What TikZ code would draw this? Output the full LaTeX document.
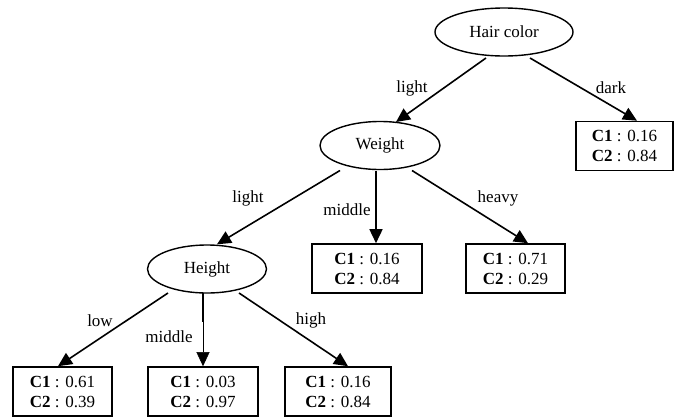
\documentclass[tikz,border=0pt]{standalone}
\usepackage{fontspec}
\setmainfont{Liberation Serif}
\usetikzlibrary{shapes.geometric,arrows.meta,calc}
\tikzset{
  attr/.style={draw, ellipse, line width=1.4pt, inner sep=0pt, minimum height=48pt},
  leaf/.style={draw, rectangle, line width=1.6pt, inner sep=0pt, minimum height=49pt, align=center},
  tip/.style={-{Triangle[length=14pt,width=13pt]}},
  edge/.style={line width=1.6pt, tip},
  lbl/.style={inner sep=1pt},
}
\begin{document}
\begin{tikzpicture}[x=1pt,y=-1pt,font=\fontsize{17}{20}\selectfont]
\useasboundingbox (0,0) rectangle (675,416);

% decision nodes
\node[attr, minimum width=138pt] (hair) at (504,32) {Hair color};
\node[attr, minimum width=120pt] (weight) at (380,145.5) {Weight};
\node[attr, minimum width=119pt] (height) at (207,269) {Height};

% class-probability leaves
\node[leaf, minimum width=97pt]  (dark)  at (624.5,146)   {\textbf{C1} : 0.16\\\textbf{C2} : 0.84};
\node[leaf, minimum width=110pt] (wmid)  at (367,268.5)   {\textbf{C1} : 0.16\\\textbf{C2} : 0.84};
\node[leaf, minimum width=99pt]  (heavy) at (515.5,268.5) {\textbf{C1} : 0.71\\\textbf{C2} : 0.29};
\node[leaf, minimum width=99pt]  (low)   at (62.5,391.5)  {\textbf{C1} : 0.61\\\textbf{C2} : 0.39};
\node[leaf, minimum width=110pt] (hmid)  at (203,391.5)   {\textbf{C1} : 0.03\\\textbf{C2} : 0.97};
\node[leaf, minimum width=106pt] (high)  at (338,391.5)   {\textbf{C1} : 0.16\\\textbf{C2} : 0.84};

% branches
\draw[edge] ($(hair)+(-18,26)$) -- ($(weight)+(16,-23.5)$);
\draw[edge] ($(hair)+(26,26)$) -- ($(dark.north)+(12.5,0)$);
\draw[edge] ($(weight)+(-40,25)$) -- ($(height.north)+(10,0)$);
\draw[edge] ($(weight)+(-4,25)$) -- ($(wmid.north)+(9,0)$);
\draw[edge] ($(weight)+(32,25)$) -- ($(heavy.north)+(12.5,0)$);
\draw[edge] ($(height)+(-39,24)$) -- ($(low.north)+(-4.5,0)$);
\coordinate (hmidbreak) at ($(height)+(-4,53)$);
\draw[line width=1.6pt] ($(height)+(-4,24)$) -- (hmidbreak);
\draw[line width=0.5pt, tip] (hmidbreak) -- ($(hmid.north)+(0,0)$);
\draw[edge] ($(height)+(32,24)$) -- ($(high.north)+(10,0)$);

% branch labels
\node[lbl] at (412,88)  {light};
\node[lbl] at (611,88)  {dark};
\node[lbl] at (248,198) {light};
\node[lbl] at (347,210) {middle};
\node[lbl] at (498,198) {heavy};
\node[lbl] at (100,321) {low};
\node[lbl] at (169,337) {middle};
\node[lbl] at (311,320) {high};
\end{tikzpicture}
\end{document}
